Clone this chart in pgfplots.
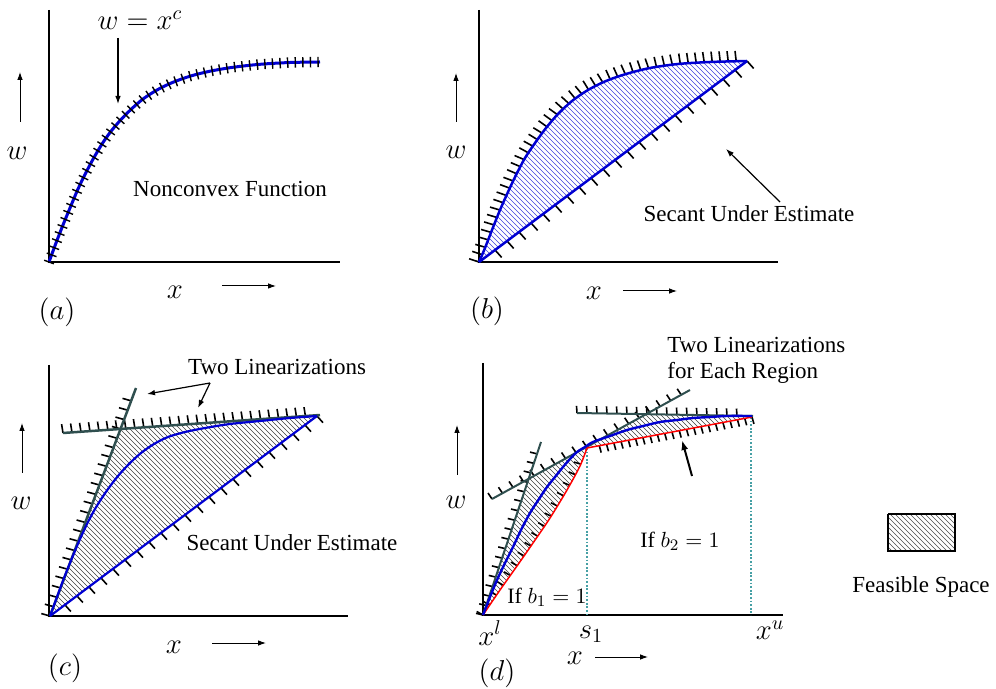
\documentclass[border=0pt]{standalone}
\usepackage[no-math]{fontspec}
\setmainfont{Liberation Serif}
\usepackage{pgfplots}
\usepackage{pgfplotstable}
\pgfplotsset{compat=1.18}
\usetikzlibrary{arrows.meta,patterns,decorations.pathreplacing}

\pgfdeclarepatternformonly{densenw}{\pgfqpoint{-1pt}{-1pt}}{\pgfqpoint{3.5pt}{3.5pt}}{\pgfqpoint{2.5pt}{2.5pt}}{%
  \pgfsetlinewidth{0.3pt}%
  \pgfpathmoveto{\pgfqpoint{0pt}{2.5pt}}%
  \pgfpathlineto{\pgfqpoint{2.6pt}{-0.1pt}}%
  \pgfusepath{stroke}}

\definecolor{cblue}{RGB}{0,0,210}
\definecolor{cgreen}{RGB}{47,79,79}
\definecolor{cred}{RGB}{255,0,0}
\definecolor{cteal}{RGB}{70,160,165}

\pgfplotstableread{
x y
49 262
56 243
63 225
70 208
78 189
86 172.5
94 157.5
103 142.5
112 130
122 118.5
132 108.5
143 99
157 90
172 82.7
190 76.2
210 71.2
233 67.3
260 64.3
290 62.5
320 62
}\curveA

\pgfplotstableread{
x y
479 262
485 248
492 230
500 210
508 192
516 175
525 158
535 143
546 128
558 114
572 101
588 90
606 81
626 74
650 68
678 64
710 62
747 61
}\curveB

\pgfplotstableread{
x y
50 616
57 597
64 578
72 558
80 539
89 520
98 504
108 489
118 476
129 464
141 453
154 444
168 437
185 432
205 428
230 424
260 421
290 418
317 416
}\curveC

\pgfplotstableread{
x y
483 615
490 597
497 580
505 563
513 547
521 530
530 513
539 499
547 487
555 477
563 467
570 459
577 452
585 447
593 442
610 436
627 430
643 426
660 422
677 420
693 418
710 417
727 416
752 416
}\curveD

\pgfplotstableread{
x y
483 615
500 590
517 566
533 543
550 518
567 490
580 466
587 448
}\redA

\tikzset{
  mathlab/.style={font=\fontsize{14.4}{17}\selectfont, inner sep=0pt},
  txt/.style={font=\fontsize{11.5}{13.5}\selectfont, inner sep=0pt},
  arr/.style={-{Latex[length=4pt,width=2.8pt]}, line width=0.5pt, black},
  hatch/.style={draw=none, pattern=densenw, pattern color=#1},
  brd/.style 2 args={draw=none, postaction={decorate, draw=black, line width=0.8pt,
     decoration={border, segment length=#1, amplitude=#2, angle=95}}},
  tck/.style={draw=none, postaction={decorate, draw=black, line width=0.7pt,
     decoration={ticks, segment length=3.8pt, amplitude=2.6pt}}},
}

\begin{document}
\begin{tikzpicture}
\begin{axis}[scale only axis, width=498pt, height=344.5pt,
  xmin=0, xmax=996, ymin=0, ymax=689, y dir=reverse,
  hide axis, clip=false]
\addplot[draw=none] coordinates {(0,0) (996,689)};

% ---------------- panel (a)
\addplot[black, line width=0.75pt] coordinates {(49,10) (49,262) (340,262)};
\addplot[cblue, line width=1.5pt, smooth] table {\curveA};
\addplot[tck] table {\curveA};
\addplot[arr, line width=0.6pt] coordinates {(118,38) (118,104)};
\addplot[arr] coordinates {(20,122) (20,72)};
\addplot[arr] coordinates {(222,286) (276,286)};
\node[mathlab] at (axis cs:140,20) {$w = x^c$};
\node[mathlab] at (axis cs:17,153) {$w$};
\node[mathlab] at (axis cs:175,292) {$x$};
\node[mathlab] at (axis cs:57,312) {$(a)$};
\node[txt] at (axis cs:230,189) {Nonconvex Function};

% ---------------- panel (b)
\addplot[black, line width=0.75pt] coordinates {(479,10) (479,262) (778,262)};
\addplot[hatch=cblue!75] table {\curveB} -- cycle;
\addplot[brd={4pt}{5.2pt}] table {\curveB};
\addplot[brd={7.5pt}{5pt}] coordinates {(747,61) (479,262)};
\addplot[cblue, line width=1.25pt, smooth] table {\curveB};
\addplot[cblue, line width=1.25pt] coordinates {(479,262) (747,61)};
\addplot[arr] coordinates {(456,122) (456,73)};
\addplot[arr] coordinates {(623,291) (677,291)};
\addplot[arr, line width=0.6pt] coordinates {(780,202) (726,149)};
\node[mathlab] at (axis cs:456,152) {$w$};
\node[mathlab] at (axis cs:594,293) {$x$};
\node[mathlab] at (axis cs:487,311) {$(b)$};
\node[txt] at (axis cs:749,214) {Secant Under Estimate};

% ---------------- panel (c)
\addplot[black, line width=0.75pt] coordinates {(49,365) (49,616) (348,616)};
\addplot[hatch=black!75] coordinates {(50,616) (121,429) (317,416)} -- cycle;
\addplot[brd={5pt}{4.5pt}] coordinates {(50,616) (136,388)};
\addplot[brd={4.5pt}{4.5pt}] coordinates {(63,433) (320,415)};
\addplot[brd={7.5pt}{4.5pt}] coordinates {(317,416) (50,616)};
\addplot[cgreen, line width=1.25pt] coordinates {(50,616) (136,388)};
\addplot[cgreen, line width=1.25pt] coordinates {(63,433) (320,415)};
\addplot[cblue, line width=1.1pt, smooth] table {\curveC};
\addplot[cblue, line width=1.1pt] coordinates {(50,616) (317,416)};
\addplot[arr] coordinates {(22,473) (22,423)};
\addplot[arr] coordinates {(212,643) (266,643)};
\addplot[arr, line width=0.6pt] coordinates {(210,383) (147,394)};
\addplot[arr, line width=0.6pt] coordinates {(210,383) (198,408)};
\node[mathlab] at (axis cs:21,503) {$w$};
\node[mathlab] at (axis cs:174,647) {$x$};
\node[mathlab] at (axis cs:65,668) {$(c)$};
\node[txt] at (axis cs:277,367) {Two Linearizations};
\node[txt] at (axis cs:292,543) {Secant Under Estimate};

% ---------------- panel (d)
\addplot[black, line width=0.75pt] coordinates {(483,363) (483,615) (783,615)};
\addplot[hatch=black!75] coordinates {(483,615) (528.6,479) (587,448) (580,466) (567,490) (550,518) (533,543) (517,566) (500,590)} -- cycle;
\addplot[hatch=black!75] coordinates {(587,448) (646,414) (752,417)} -- cycle;
\addplot[cteal, line width=0.8pt, dash pattern=on 0.9pt off 0.9pt] coordinates {(587,448) (587,615)};
\addplot[cteal, line width=0.8pt, dash pattern=on 0.9pt off 0.9pt] coordinates {(751,417) (751,615)};
\addplot[brd={5pt}{3.6pt}] coordinates {(483,615) (541,442)};
\addplot[brd={6pt}{3.6pt}] coordinates {(492,499) (690,390)};
\addplot[brd={5pt}{3.6pt}] coordinates {(577,413) (753,416)};
\addplot[brd={6pt}{3.6pt}] table {\redA};
\addplot[brd={3.7pt}{3.6pt}] coordinates {(752,417) (587,448)};
\addplot[cgreen, line width=1pt] coordinates {(483,615) (541,442)};
\addplot[cgreen, line width=1pt] coordinates {(492,499) (690,390)};
\addplot[cgreen, line width=1pt] coordinates {(577,413) (753,416)};
\addplot[cred, line width=0.75pt, smooth] table {\redA};
\addplot[cred, line width=0.75pt] coordinates {(587,448) (752,417)};
\addplot[cblue, line width=1.2pt, smooth] table {\curveD};
\addplot[arr, line width=1pt, -{Latex[length=5pt,width=3.5pt]}] coordinates {(692,476) (682,440)};
\addplot[arr] coordinates {(457,475) (457,425)};
\addplot[arr] coordinates {(595,657) (648,657)};
\node[mathlab] at (axis cs:456,502) {$w$};
\node[mathlab] at (axis cs:575,658) {$x$};
\node[mathlab] at (axis cs:497,673) {$(d)$};
\node[mathlab] at (axis cs:490,633) {$x^l$};
\node[mathlab] at (axis cs:591,634) {$s_1$};
\node[mathlab] at (axis cs:770,630) {$x^u$};
\node[txt, anchor=west] at (axis cs:667,345) {Two Linearizations};
\node[txt, anchor=west] at (axis cs:667,373) {for Each Region};
\node[font=\fontsize{10.95}{12}\selectfont, inner sep=0pt] at (axis cs:547,597) {If $b_1 = 1$};
\node[font=\fontsize{10.95}{12}\selectfont, inner sep=0pt] at (axis cs:680,541) {If $b_2 = 1$};

% ---------------- legend
\addplot[hatch=black!70] coordinates {(888,514) (955,514) (955,551) (888,551)} -- cycle;
\addplot[black, line width=0.7pt] coordinates {(888,514) (955,514) (955,551) (888,551) (888,514)};
\node[txt] at (axis cs:921,587) {Feasible Space};
\end{axis}
\end{tikzpicture}
\end{document}
